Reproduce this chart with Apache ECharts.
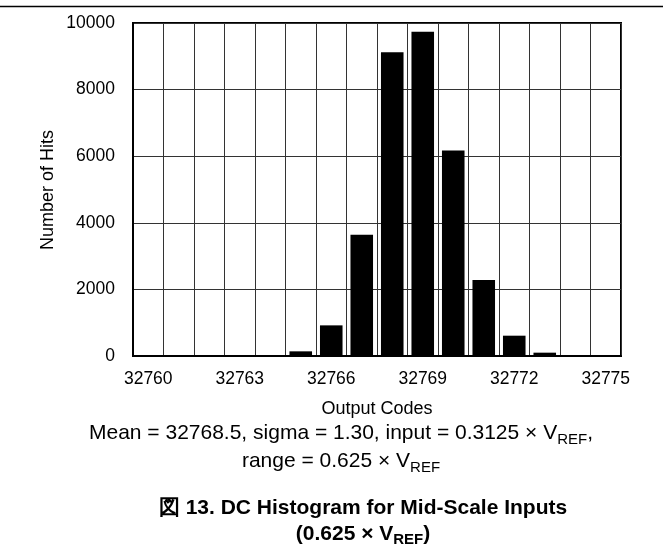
<!DOCTYPE html>
<html>
<head>
<meta charset="utf-8">
<script src="https://cdn.jsdelivr.net/npm/echarts@6/dist/echarts.min.js"></script>
<style>
html,body{margin:0;padding:0;background:#fff;}
#c{width:663px;height:548px;}
</style>
</head>
<body>
<div id="c"></div>
<script>
var categories = ['32760','32761','32762','32763','32764','32765','32766','32767','32768','32769','32770','32771','32772','32773','32774','32775'];
var hits = [0,0,0,0,0,140,920,3640,9120,9740,6170,2280,610,100,0,0];
var yMin = 0, yMax = 10000, yStep = 2000;

var FONT = '"Liberation Sans", Arial, sans-serif';
var chart = echarts.init(document.getElementById('c'), null, {renderer:'canvas'});
chart.setOption({
  animation:false,
  backgroundColor:'#fff',
  grid:{left:133,right:42,top:23,bottom:192,show:true,borderColor:'#000',borderWidth:2,backgroundColor:'transparent'},
  xAxis:{
    type:'category',
    data:categories,
    boundaryGap:true,
    axisLine:{show:true,lineStyle:{color:'#000',width:2}},
    axisTick:{show:false},
    axisLabel:{interval:2,color:'#000',fontSize:17.5,fontFamily:FONT,margin:14},
    splitLine:{show:true,interval:0,lineStyle:{color:'#333',width:1}}
  },
  yAxis:{
    type:'value',
    min:yMin,max:yMax,interval:yStep,
    axisLine:{show:true,lineStyle:{color:'#000',width:2}},
    axisTick:{show:false},
    axisLabel:{color:'#000',fontSize:17.5,fontFamily:FONT,margin:18,formatter:function(v){return String(v);}},
    splitLine:{show:true,lineStyle:{color:'#333',width:1}}
  },
  series:[{
    type:'bar',
    data:hits,
    barWidth:'74%',
    itemStyle:{color:'#000'}
  }],
  graphic:[
    {type:'line',shape:{x1:0,y1:6.5,x2:663,y2:6.5},style:{stroke:'#000',lineWidth:1.5}},
    {type:'text',x:48,y:190,rotation:Math.PI/2,style:{text:'Number of Hits',fontSize:18,fontFamily:FONT,fill:'#000',align:'center',verticalAlign:'middle'}},
    {type:'text',x:377,y:409,style:{text:'Output Codes',fontSize:18,fontFamily:FONT,fill:'#000',align:'center',verticalAlign:'middle'}},
    {type:'text',x:341,y:447,style:{
      text:'Mean = 32768.5, sigma = 1.30, input = 0.3125 × V{sub|REF},\nrange = 0.625 × V{sub|REF}',
      fontSize:21,fontFamily:FONT,fill:'#000',align:'center',verticalAlign:'middle',lineHeight:28,
      rich:{sub:{fontSize:15,fontFamily:FONT,fill:'#000',lineHeight:12,verticalAlign:'bottom'}}
    }},
    {type:'text',x:363,y:521,style:{
      text:'図 13. DC Histogram for Mid-Scale Inputs\n(0.625 × V{sub|REF})',
      fontSize:21,fontWeight:'bold',fontFamily:FONT,fill:'#000',align:'center',verticalAlign:'middle',lineHeight:26,
      rich:{sub:{fontSize:15,fontWeight:'bold',fontFamily:FONT,fill:'#000',lineHeight:12,verticalAlign:'bottom'}}
    }}
  ]
});
</script>
</body>
</html>
